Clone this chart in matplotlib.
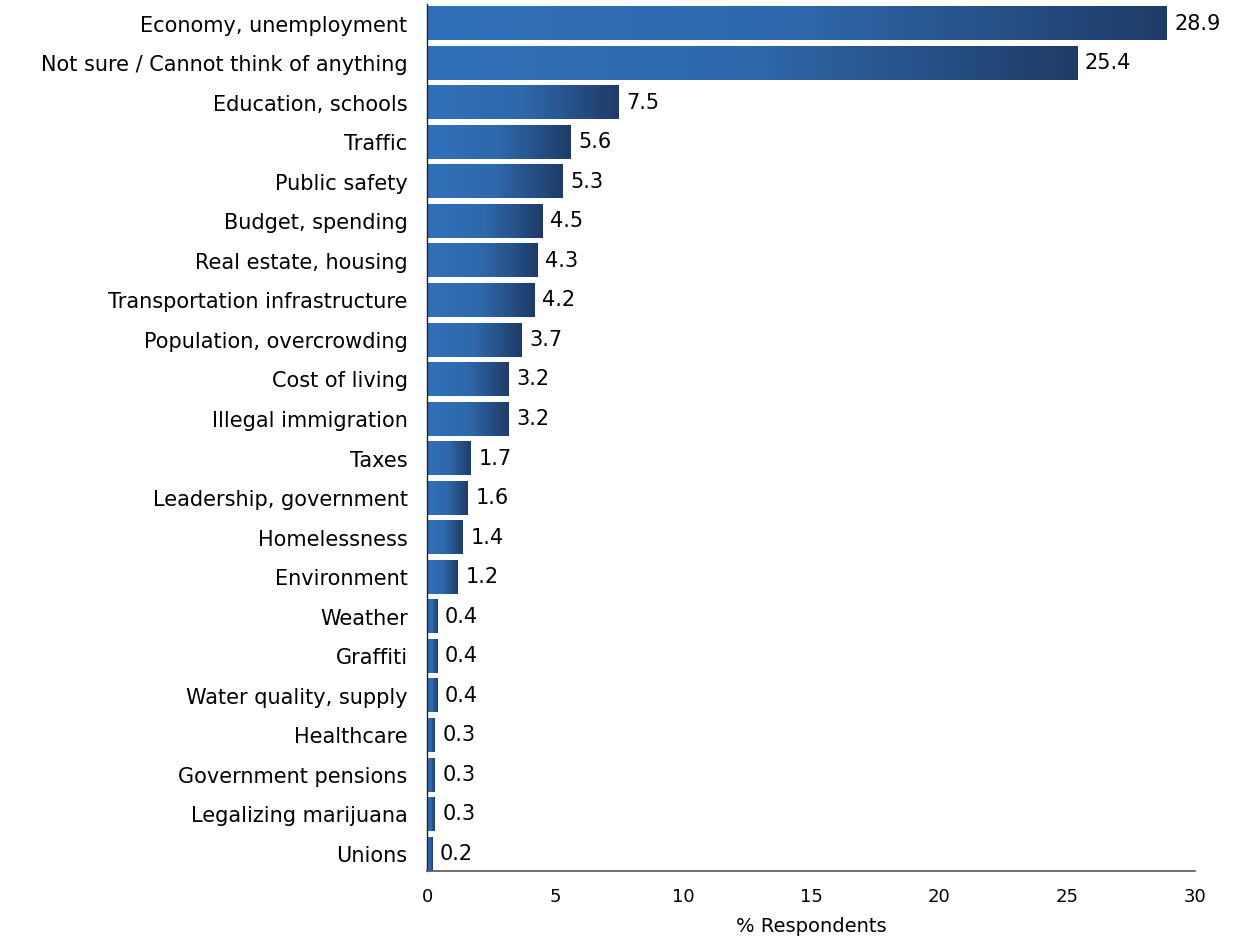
import numpy as np
import matplotlib
matplotlib.use("Agg")
import matplotlib.pyplot as plt
from matplotlib.colors import LinearSegmentedColormap

categories = [
    "Economy, unemployment", "Not sure / Cannot think of anything",
    "Education, schools", "Traffic", "Public safety", "Budget, spending",
    "Real estate, housing", "Transportation infrastructure",
    "Population, overcrowding", "Cost of living", "Illegal immigration",
    "Taxes", "Leadership, government", "Homelessness", "Environment",
    "Weather", "Graffiti", "Water quality, supply", "Healthcare",
    "Government pensions", "Legalizing marijuana", "Unions",
]
values = [28.9, 25.4, 7.5, 5.6, 5.3, 4.5, 4.3, 4.2, 3.7, 3.2, 3.2,
          1.7, 1.6, 1.4, 1.2, 0.4, 0.4, 0.4, 0.3, 0.3, 0.3, 0.2]
xticks = [0, 5, 10, 15, 20, 25, 30]

plt.rcParams['font.family'] = ['DejaVu Sans']

# light blue on the left, navy at the end of each bar
grad = LinearSegmentedColormap.from_list(
    "bar", ["#3171bb", "#2f68ab", "#1f3c68"])

fig = plt.figure(figsize=(12.36, 9.40), dpi=100)
ax = fig.add_axes([0.3455, 0.0734, 0.6213, 0.9226])

h = 0.84
g = np.linspace(0, 1, 256).reshape(1, -1)
for i, v in enumerate(values):
    ax.imshow(g, cmap=grad, aspect='auto', interpolation='bilinear',
              extent=[0, v, i + h / 2, i - h / 2], zorder=2)
    ax.text(v + 0.3, i, f"{v:.1f}", va='center', ha='left', fontsize=15)

ax.set_xlim(0, 30)
ax.set_ylim(21.43, -0.50)
ax.set_yticks(range(len(categories)))
ax.set_yticklabels(categories, fontsize=15)
ax.set_xticks(xticks)
ax.set_xticklabels([str(t) for t in xticks], fontsize=13)
ax.tick_params(axis='y', length=0, pad=14)
ax.tick_params(axis='x', length=0, pad=12)
ax.set_xlabel("% Respondents", fontsize=14, labelpad=8)

for s in ['top', 'right']:
    ax.spines[s].set_visible(False)
ax.spines['left'].set_color('#222222')
ax.spines['left'].set_linewidth(1.0)
ax.spines['bottom'].set_color('#555555')
ax.spines['bottom'].set_linewidth(1.2)

fig.savefig("out.png", dpi=100)
